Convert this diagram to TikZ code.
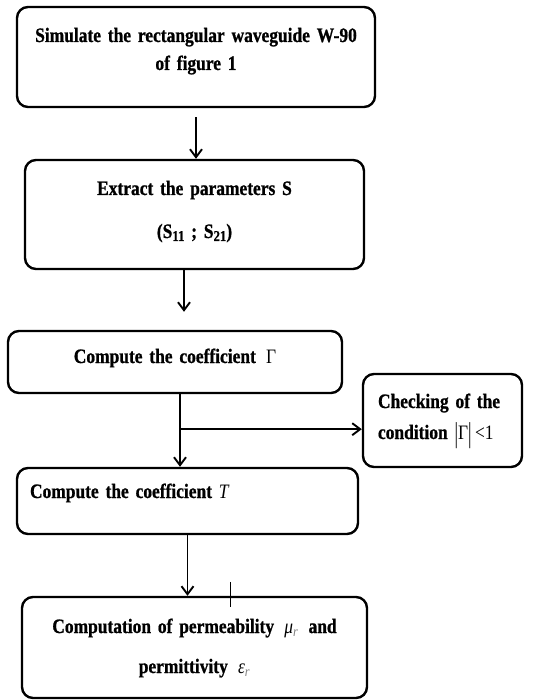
\documentclass[tikz,border=0pt]{standalone}
\usepackage{fontspec}
\setmainfont{Liberation Serif}[FakeStretch=0.85, WordSpace=0.6, BoldFeatures={FakeBold=0.9}]
\usetikzlibrary{arrows.meta, calc}

\newcommand{\tallbar}{\raisebox{-3pt}{\scalebox{1}[1.4]{|}}}
\newcommand{\ssub}[1]{\raisebox{-3pt}{\fontsize{15}{15}\selectfont #1}}

\begin{document}
\begin{tikzpicture}[x=1pt, y=-1pt, font=\bfseries\fontsize{20.5}{28}\selectfont,
	stepbox/.style={draw, line width=2.4pt, rounded corners=11pt, inner sep=0pt, anchor=base},
	flow/.style={line width=1.9pt, -{Straight Barb[length=8pt, width=12pt]}}]
	\useasboundingbox				(0,0) rectangle (539,700);
	% boxes: at (centre x, first baseline)
	\node[stepbox, text width=358, text height=35, text depth=65, align=center] (sim) at (196,42)
		{Simulate the rectangular waveguide W-90\\ of figure 1};
	\node[stepbox, text width=339, text height=35, text depth=74, align=center] (extract) at (194.5,195)
		{Extract the parameters S\\[15pt] (S\ssub{11} ; S\ssub{21})};
	\node[stepbox, text width=334, text height=32, text depth=30, align=center] (gamma) at (175,363)
		{Compute the coefficient \,{\mdseries Γ}};
	\node[stepbox, text width=129, inner xsep=15, text height=34, text depth=59, align=left] (check) at (442.5,408)
		{Checking of the\\[3pt] condition {\mdseries\tallbar Γ\tallbar\,<1}};
	\node[stepbox, text width=315, inner xsep=13, text height=30, text depth=36, align=left] (coefT) at (187.5,498)
		{Compute the coefficient {\mdseries\itshape T}};
	\node[stepbox, text width=345, text height=36, text depth=65, align=center] (perm) at (194.5,633)
		{Computation of permeability \,{\mdseries\itshape μ\textsubscript{\color{gray}r}}\, and\\[12pt] permittivity \,{\mdseries\itshape ε\textsubscript{\color{gray}r}}};
	% connectors
	\draw[flow]		([yshift=-9pt]sim.south) -- (sim.south |- extract.north);
	\draw[flow]		([xshift=-10.5pt]extract.south) -- ($([xshift=-10.5pt]extract.south |- gamma.north)+(0,-18)$);
	\coordinate (br) at ($([xshift=5pt]gamma.south)+(0,35)$);
	\draw[flow]		([xshift=5pt]gamma.south) -- ([xshift=5pt]gamma.south |- coefT.north);
	\draw[flow]		(br) -- (br -| check.west);
	\draw[flow]		(coefT.south) -- (coefT.south |- perm.north);
	\draw[line width=0.6pt]	($(perm.north)+(35.5,-14)$) --++ (0,25);
\end{tikzpicture}
\end{document}
